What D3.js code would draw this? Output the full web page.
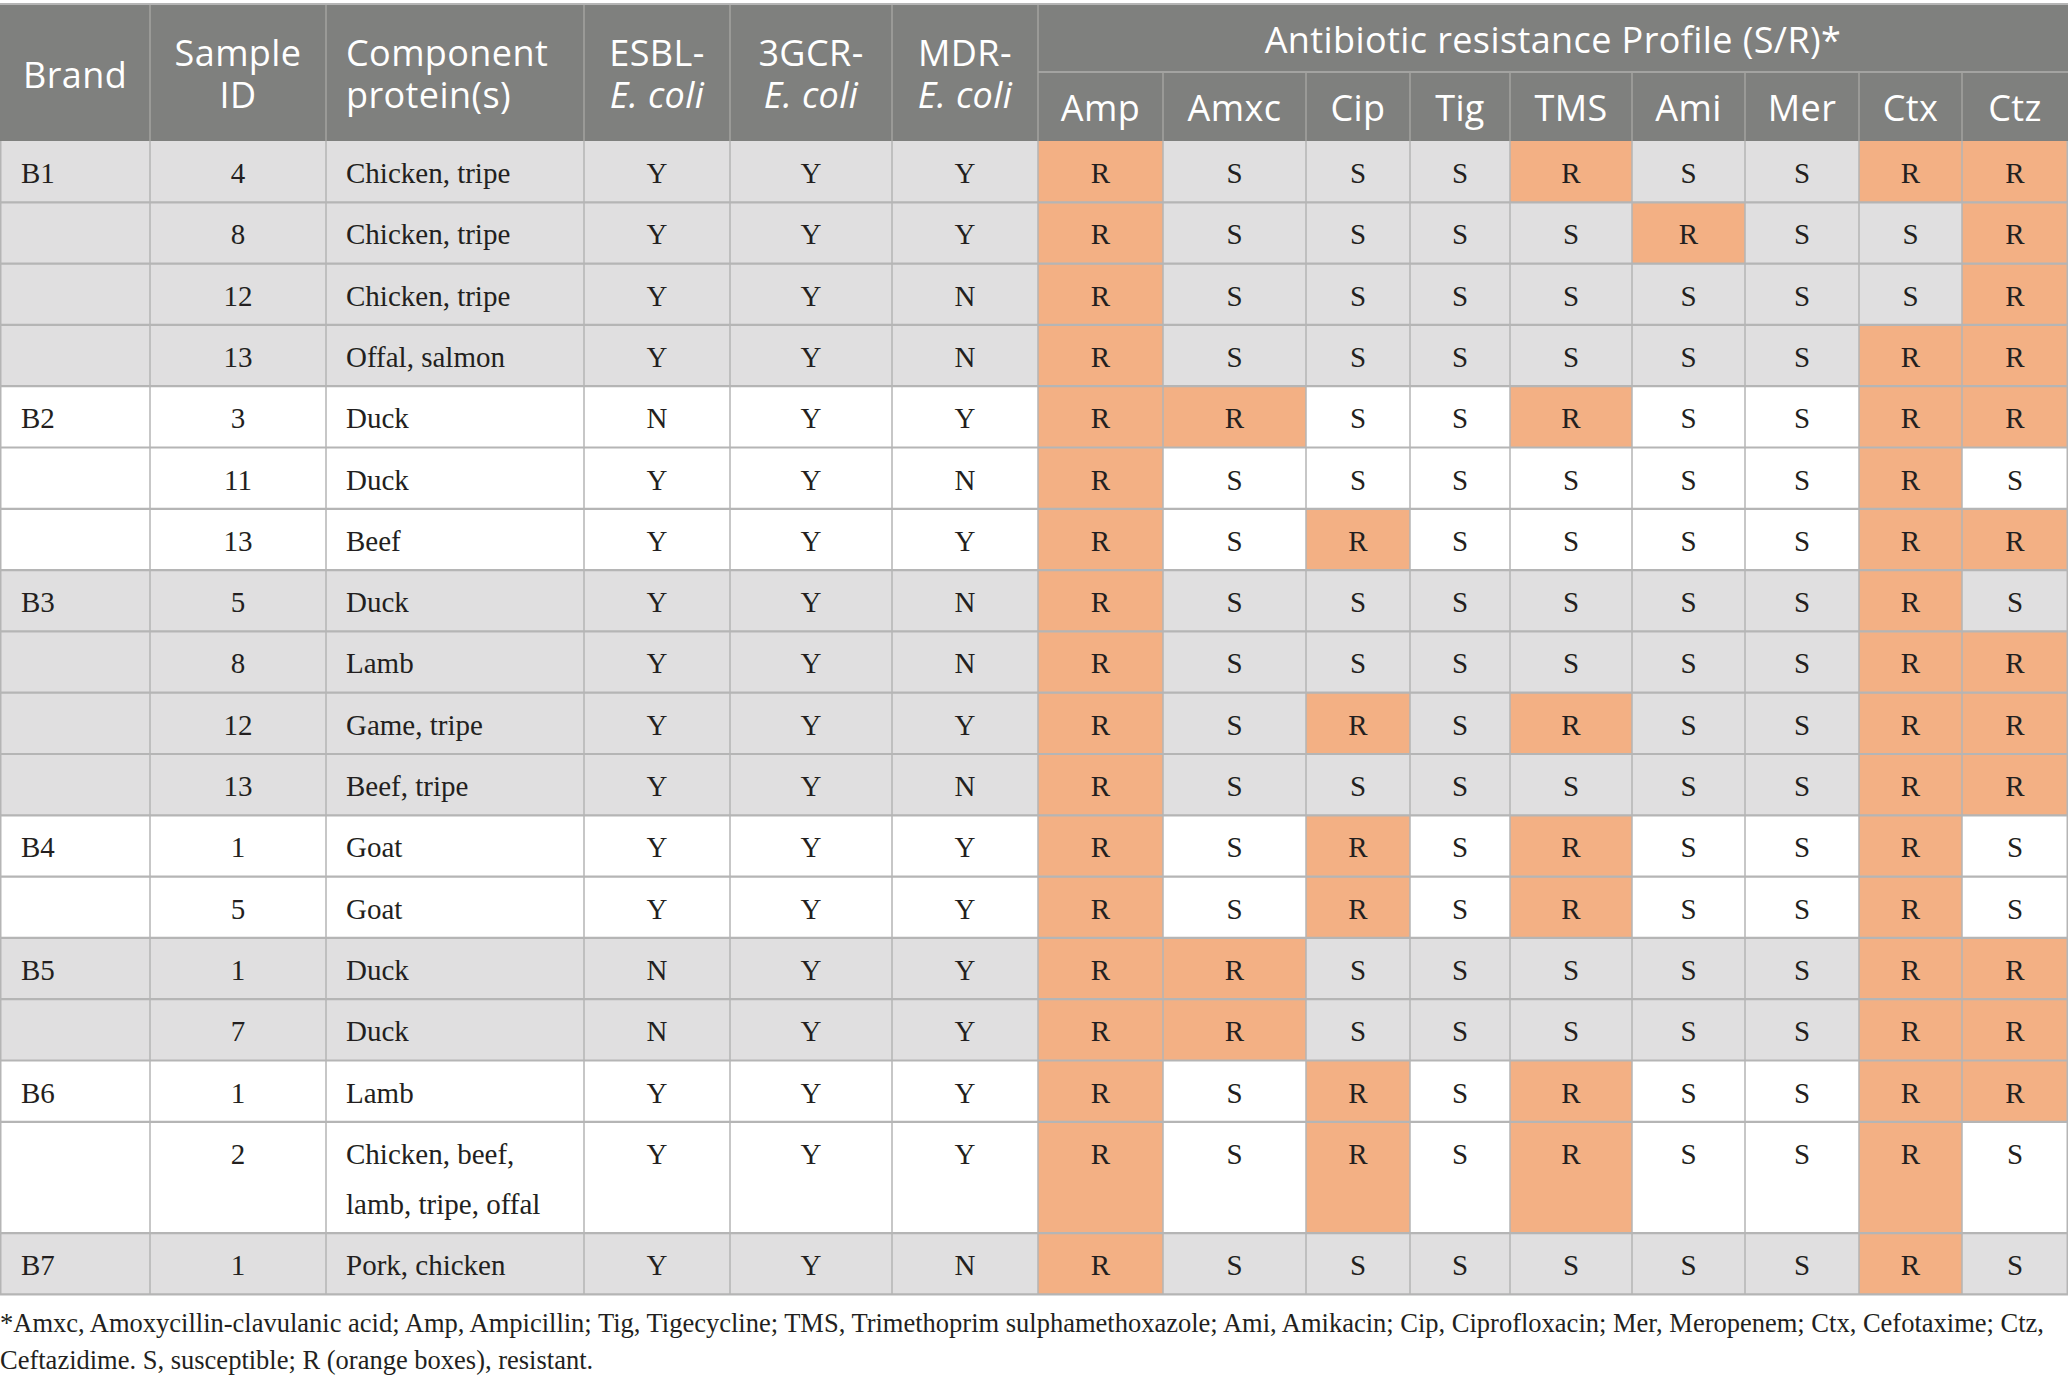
<!DOCTYPE html>
<html>
<head>
<meta charset="utf-8">
<script src="https://cdn.jsdelivr.net/npm/d3@7"></script>
<style>
  body { margin: 0; background: #fff; }
  svg { display: block; }
</style>
</head>
<body>
<div id="table"></div>
<script>
// table data
var brands   = ["B1", "", "", "", "B2", "", "", "B3", "", "", "", "B4", "", "B5", "", "B6", "", "B7"];
var sampleIds = ["4", "8", "12", "13", "3", "11", "13", "5", "8", "12", "13", "1", "5", "1", "7", "1", "2", "1"];
var proteins = [
    ["Chicken, tripe"], ["Chicken, tripe"], ["Chicken, tripe"], ["Offal, salmon"],
    ["Duck"], ["Duck"], ["Beef"],
    ["Duck"], ["Lamb"], ["Game, tripe"], ["Beef, tripe"],
    ["Goat"], ["Goat"],
    ["Duck"], ["Duck"],
    ["Lamb"], ["Chicken, beef,", "lamb, tripe, offal"],
    ["Pork, chicken"]
];
var esbl = ["Y", "Y", "Y", "Y", "N", "Y", "Y", "Y", "Y", "Y", "Y", "Y", "Y", "N", "N", "Y", "Y", "Y"];
var gcr3 = ["Y", "Y", "Y", "Y", "Y", "Y", "Y", "Y", "Y", "Y", "Y", "Y", "Y", "Y", "Y", "Y", "Y", "Y"];
var mdr  = ["Y", "Y", "N", "N", "Y", "N", "Y", "N", "N", "Y", "N", "Y", "Y", "Y", "Y", "Y", "Y", "N"];

var antibiotics = ["Amp", "Amxc", "Cip", "Tig", "TMS", "Ami", "Mer", "Ctx", "Ctz"];
// one string per sample, one letter per antibiotic (same order as above)
var profiles = [
    "RSSSRSSRR", "RSSSSRSSR", "RSSSSSSSR", "RSSSSSSRR",
    "RRSSRSSRR", "RSSSSSSRS", "RSRSSSSRR",
    "RSSSSSSRS", "RSSSSSSRR", "RSRSRSSRR", "RSSSSSSRR",
    "RSRSRSSRS", "RSRSRSSRS",
    "RRSSSSSRR", "RRSSSSSRR",
    "RSRSRSSRR", "RSRSRSSRS",
    "RSSSSSSRS"
];

var footnote = [
    "*Amxc, Amoxycillin-clavulanic acid; Amp, Ampicillin; Tig, Tigecycline; TMS, Trimethoprim sulphamethoxazole; Ami, Amikacin; Cip, Ciprofloxacin; Mer, Meropenem; Ctx, Cefotaxime; Ctz,",
    "Ceftazidime. S, susceptible; R (orange boxes), resistant."
];

var w = 2068;
var h = 1385;

// column edges (left edge of each column, plus right edge of table)
var colEdges = [0, 150, 326, 584, 730, 892, 1038, 1163, 1306, 1410, 1510, 1632, 1745, 1859, 1962, 2068];
var headTop = 5, headMid = 72, headBottom = 141;
var rowH = 61.3, lineH = 50;

var headBg = "#7f807e",
    grayRow = "#e0dfe0",
    orange = "#f3b084",
    gridColor = "#b5b5b5",
    headLine = "#a3a3a1",
    textColor = "#231f20";

var serif = "'Liberation Serif', 'Times New Roman', serif";
var sans = "'Open Sans', 'Noto Sans', sans-serif";
var bodySize = 29, headSize = 36;

var svg = d3.select("#table")
            .append("svg")
            .attr("width", w)
            .attr("height", h);

// rows: y offsets computed from the number of text lines
var rows = [];
var yPos = headBottom;
var group = -1;
sampleIds.forEach(function (id, i) {
    if (brands[i] !== "") { group++; }
    var height = rowH + (proteins[i].length - 1) * lineH;
    rows.push({ i: i, y: yPos, h: height, shaded: group % 2 === 0 });
    yPos += height;
});
var tableBottom = yPos;

// antibiotic columns, x and width looked up from the edges
var abX = d3.scaleOrdinal().domain(antibiotics).range(colEdges.slice(6, 15));
var abW = d3.scaleOrdinal().domain(antibiotics).range(d3.range(6, 15).map(function (k) { return colEdges[k + 1] - colEdges[k]; }));

// ---- body backgrounds
var rowG = svg.selectAll("g.row")
    .data(rows)
    .enter()
    .append("g")
    .attr("class", "row")
    .attr("transform", function (d) { return "translate(0," + d.y + ")"; });

rowG.append("rect")
    .attr("x", 0)
    .attr("width", w)
    .attr("height", function (d) { return d.h; })
    .attr("fill", function (d) { return d.shaded ? grayRow : "#fff"; });

rowG.selectAll("rect.res")
    .data(function (d) {
        return antibiotics.map(function (a, k) { return { ab: a, v: profiles[d.i][k], h: d.h }; });
    })
    .enter()
    .append("rect")
    .attr("class", "res")
    .attr("x", function (d) { return abX(d.ab); })
    .attr("width", function (d) { return abW(d.ab); })
    .attr("height", function (d) { return d.h; })
    .attr("fill", function (d) { return d.v === "R" ? orange : "none"; });

// ---- grid lines in the body
svg.selectAll("line.vgrid")
    .data(colEdges)
    .enter()
    .append("line")
    .attr("x1", function (d) { return d === 0 ? 0.75 : d === w ? w - 0.75 : d; })
    .attr("x2", function (d) { return d === 0 ? 0.75 : d === w ? w - 0.75 : d; })
    .attr("y1", headBottom)
    .attr("y2", tableBottom)
    .style("stroke", gridColor)
    .style("stroke-width", 1.5);

svg.selectAll("line.hgrid")
    .data(rows.map(function (r) { return r.y + r.h; }))
    .enter()
    .append("line")
    .attr("x1", 0)
    .attr("x2", w)
    .attr("y1", function (d) { return d; })
    .attr("y2", function (d) { return d; })
    .style("stroke", gridColor)
    .style("stroke-width", 2.2);

// ---- body text
function cellText(sel, x, anchor, getText) {
    sel.append("text")
        .attr("x", x)
        .attr("y", 42)
        .attr("text-anchor", anchor)
        .attr("font-family", serif)
        .attr("font-size", bodySize)
        .attr("fill", textColor)
        .text(function (d) { return getText(d.i); });
}

cellText(rowG, 21, "start", function (i) { return brands[i]; });
cellText(rowG, (colEdges[1] + colEdges[2]) / 2, "middle", function (i) { return sampleIds[i]; });
cellText(rowG, (colEdges[3] + colEdges[4]) / 2, "middle", function (i) { return esbl[i]; });
cellText(rowG, (colEdges[4] + colEdges[5]) / 2, "middle", function (i) { return gcr3[i]; });
cellText(rowG, (colEdges[5] + colEdges[6]) / 2, "middle", function (i) { return mdr[i]; });

// protein text can wrap onto a second line
rowG.append("text")
    .attr("font-family", serif)
    .attr("font-size", bodySize)
    .attr("fill", textColor)
    .selectAll("tspan")
    .data(function (d) { return proteins[d.i]; })
    .enter()
    .append("tspan")
    .attr("x", colEdges[2] + 20)
    .attr("y", function (d, j) { return 42 + j * lineH; })
    .text(function (d) { return d; });

rowG.selectAll("text.res")
    .data(function (d) {
        return antibiotics.map(function (a, k) { return { ab: a, v: profiles[d.i][k] }; });
    })
    .enter()
    .append("text")
    .attr("class", "res")
    .attr("x", function (d) { return abX(d.ab) + abW(d.ab) / 2; })
    .attr("y", 42)
    .attr("text-anchor", "middle")
    .attr("font-family", serif)
    .attr("font-size", bodySize)
    .attr("fill", textColor)
    .text(function (d) { return d.v; });

// ---- header
var head = svg.append("g");

head.append("line")
    .attr("x1", 0).attr("x2", w)
    .attr("y1", headTop - 1).attr("y2", headTop - 1)
    .style("stroke", gridColor)
    .style("stroke-width", 2);

head.append("rect")
    .attr("x", 0)
    .attr("y", headTop)
    .attr("width", w)
    .attr("height", headBottom - headTop)
    .attr("fill", headBg);

// header lines
head.append("line")
    .attr("x1", colEdges[6]).attr("x2", w)
    .attr("y1", headMid).attr("y2", headMid)
    .style("stroke", headLine)
    .style("stroke-width", 2);

head.selectAll("line.hv")
    .data(colEdges.slice(1, 15))
    .enter()
    .append("line")
    .attr("x1", function (d) { return d; })
    .attr("x2", function (d) { return d; })
    .attr("y1", function (d) { return d > colEdges[6] ? headMid : headTop; })
    .attr("y2", headBottom)
    .style("stroke", headLine)
    .style("stroke-width", 1.5);

// header labels (lines of text per column)
var headLabels = [
    { x: 23, anchor: "start", lines: [{ t: "Brand", y: 88 }] },
    { x: (colEdges[1] + colEdges[2]) / 2, anchor: "middle", lines: [{ t: "Sample", y: 66 }, { t: "ID", y: 108 }] },
    { x: colEdges[2] + 20, anchor: "start", lines: [{ t: "Component", y: 66 }, { t: "protein(s)", y: 108 }] },
    { x: (colEdges[3] + colEdges[4]) / 2, anchor: "middle", lines: [{ t: "ESBL-", y: 66 }, { t: "E. coli", y: 108, it: true }] },
    { x: (colEdges[4] + colEdges[5]) / 2, anchor: "middle", lines: [{ t: "3GCR-", y: 66 }, { t: "E. coli", y: 108, it: true }] },
    { x: (colEdges[5] + colEdges[6]) / 2, anchor: "middle", lines: [{ t: "MDR-", y: 66 }, { t: "E. coli", y: 108, it: true }] },
    { x: (colEdges[6] + colEdges[15]) / 2, anchor: "middle", lines: [{ t: "Antibiotic resistance Profile (S/R)*", y: 53 }] }
];

head.selectAll("text.hl")
    .data(headLabels)
    .enter()
    .append("text")
    .attr("class", "hl")
    .attr("text-anchor", function (d) { return d.anchor; })
    .attr("font-family", sans)
    .attr("font-size", headSize)
    .attr("letter-spacing", 0.4)
    .attr("fill", "#fff")
    .each(function (c) {
        d3.select(this).selectAll("tspan")
            .data(c.lines)
            .enter()
            .append("tspan")
            .attr("x", c.x)
            .attr("y", function (l) { return l.y; })
            .attr("font-style", function (l) { return l.it ? "italic" : "normal"; })
            .text(function (l) { return l.t; });
    });

head.selectAll("text.ab")
    .data(antibiotics)
    .enter()
    .append("text")
    .attr("class", "ab")
    .attr("x", function (d) { return abX(d) + abW(d) / 2; })
    .attr("y", 121)
    .attr("text-anchor", "middle")
    .attr("font-family", sans)
    .attr("font-size", headSize)
    .attr("letter-spacing", 0.4)
    .attr("fill", "#fff")
    .text(function (d) { return d; });

// ---- footnote
svg.selectAll("text.note")
    .data(footnote)
    .enter()
    .append("text")
    .attr("class", "note")
    .attr("x", 0)
    .attr("y", function (d, i) { return tableBottom + 38 + i * 37; })
    .attr("font-family", serif)
    .attr("font-size", 26.5)
    .attr("fill", textColor)
    .text(function (d) { return d; });
</script>
</body>
</html>
